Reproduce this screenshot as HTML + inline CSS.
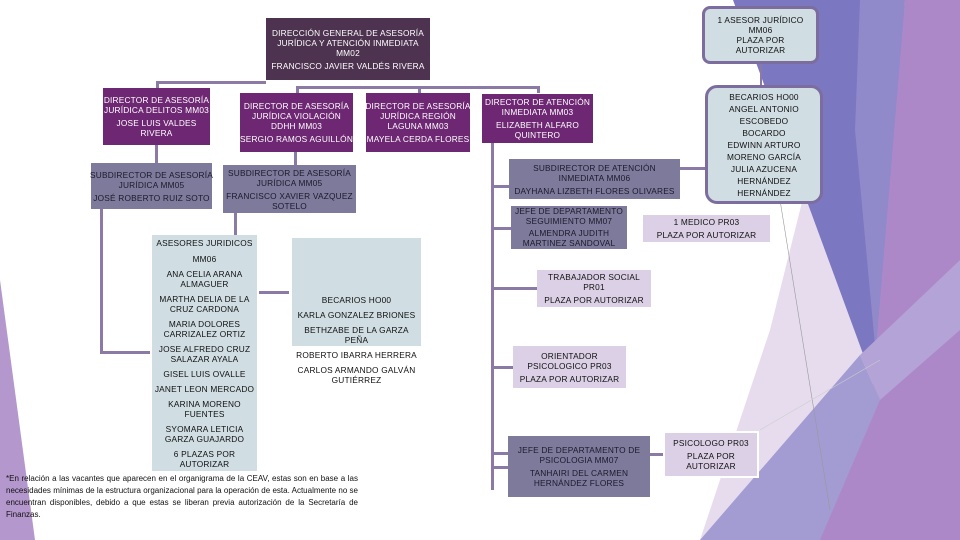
<!DOCTYPE html>
<html><head><meta charset="utf-8"><style>
body{margin:0;width:960px;height:540px;overflow:hidden;background:#fff;position:relative;font-family:"Liberation Sans",sans-serif}
.b{position:absolute;box-sizing:border-box;text-align:center;font-size:8.3px;line-height:10px;display:flex;flex-direction:column;justify-content:center;align-items:center;letter-spacing:0.2px;white-space:nowrap}
.b p{margin:0 0 3px 0}.b p:last-child{margin:0}
.dk{background:#4d3350;color:#fff}
.pu{background:#6e2773;color:#fff}
.gr{background:#7d7a9b;color:#1a1a2a}
.lb{background:#d0dde3;color:#111}
.lv{background:#dcd0e6;color:#111}
.ln{position:absolute;background:#8c7aa6}
</style></head><body>
<svg width="960" height="540" style="position:absolute;left:0;top:0">
<polygon points="805,190 880,400 700,540 770,330" fill="#e6dcee"/>
<polygon points="733,0 905,0 880,400" fill="#7b77c0"/>
<polygon points="860,0 905,0 880,400 855,130" fill="#9f96d0" opacity="0.6"/>
<polygon points="905,0 960,0 960,540 815,540 870,420" fill="#ac88c8"/>
<polygon points="700,540 860,355 880,400 820,540" fill="#a29cd2"/>
<polygon points="860,355 960,260 960,330 880,400" fill="#b3a3d6"/>
<polygon points="0,280 35,540 0,540" fill="#b497cc"/>
<line x1="780" y1="200" x2="830" y2="510" stroke="#999" stroke-width="0.6"/>
<line x1="880" y1="360" x2="760" y2="430" stroke="#ccc" stroke-width="0.6"/>
</svg>
<div class="ln" style="left:156px;top:81px;width:110px;height:3px"></div>
<div class="ln" style="left:156px;top:81px;width:3px;height:8px"></div>
<div class="ln" style="left:296px;top:86px;width:244px;height:3px"></div>
<div class="ln" style="left:296px;top:86px;width:3px;height:7px"></div>
<div class="ln" style="left:418px;top:86px;width:3px;height:7px"></div>
<div class="ln" style="left:537px;top:86px;width:3px;height:7px"></div>
<div class="ln" style="left:155px;top:145px;width:3px;height:18px"></div>
<div class="ln" style="left:294px;top:152px;width:3px;height:13px"></div>
<div class="ln" style="left:100px;top:208px;width:3px;height:146px"></div>
<div class="ln" style="left:100px;top:351px;width:50px;height:3px"></div>
<div class="ln" style="left:234px;top:213px;width:3px;height:22px"></div>
<div class="ln" style="left:259px;top:291px;width:30px;height:3px"></div>
<div class="ln" style="left:491px;top:143px;width:3px;height:347px"></div>
<div class="ln" style="left:491px;top:185px;width:18px;height:3px"></div>
<div class="ln" style="left:680px;top:167px;width:26px;height:3px"></div>
<div class="ln" style="left:491px;top:227px;width:20px;height:3px"></div>
<div class="ln" style="left:491px;top:287px;width:46px;height:3px"></div>
<div class="ln" style="left:491px;top:366px;width:22px;height:3px"></div>
<div class="ln" style="left:491px;top:452px;width:17px;height:3px"></div>
<div class="ln" style="left:491px;top:466px;width:17px;height:3px"></div>
<div class="ln" style="left:650px;top:453px;width:14px;height:3px"></div>
<div class="ln" style="left:760px;top:63px;width:2px;height:24px"></div>
<div class="b dk" style="left:266px;top:18px;width:164px;height:62px"><p>DIRECCIÓN GENERAL DE ASESORÍA<br>JURÍDICA Y ATENCIÓN INMEDIATA<br>MM02</p><p>FRANCISCO JAVIER VALDÉS RIVERA</p></div>
<div class="b lb" style="left:702px;top:6px;width:117px;height:58px;border:3px solid #7d6d9e;border-radius:8px"><p>1 ASESOR JURÍDICO<br>MM06<br>PLAZA POR<br>AUTORIZAR</p></div>
<div class="b lb" style="left:705px;top:85px;width:118px;height:119px;border:3px solid #7d6d9e;border-radius:12px;line-height:12px"><p>BECARIOS HO00<br>ANGEL ANTONIO<br>ESCOBEDO<br>BOCARDO<br>EDWINN ARTURO<br>MORENO GARCÍA<br>JULIA AZUCENA<br>HERNÁNDEZ<br>HERNÁNDEZ</p></div>
<div class="b pu" style="left:103px;top:88px;width:107px;height:57px"><p>DIRECTOR DE ASESORÍA<br>JURÍDICA DELITOS MM03</p><p>JOSE LUIS VALDES<br>RIVERA</p></div>
<div class="b pu" style="left:240px;top:93px;width:113px;height:59px"><p>DIRECTOR DE ASESORÍA<br>JURÍDICA VIOLACIÓN<br>DDHH MM03</p><p>SERGIO RAMOS AGUILLÓN</p></div>
<div class="b pu" style="left:366px;top:93px;width:104px;height:59px"><p>DIRECTOR DE ASESORÍA<br>JURÍDICA REGIÓN<br>LAGUNA MM03</p><p>MAYELA CERDA FLORES</p></div>
<div class="b pu" style="left:482px;top:94px;width:111px;height:49px"><p>DIRECTOR DE ATENCIÓN<br>INMEDIATA MM03</p><p>ELIZABETH ALFARO<br>QUINTERO</p></div>
<div class="b gr" style="left:91px;top:163px;width:121px;height:46px"><p>SUBDIRECTOR DE ASESORÍA<br>JURÍDICA MM05</p><p>JOSÉ ROBERTO RUIZ SOTO</p></div>
<div class="b gr" style="left:223px;top:165px;width:133px;height:48px"><p>SUBDIRECTOR DE ASESORÍA<br>JURÍDICA MM05</p><p>FRANCISCO XAVIER VAZQUEZ<br>SOTELO</p></div>
<div class="b lb" style="left:152px;top:235px;width:105px;height:236px;line-height:10px;justify-content:flex-start;padding-top:3px"><p style="margin-bottom:6px">ASESORES JURIDICOS</p><p style="margin-bottom:5px">MM06</p><p style="margin-bottom:5px">ANA CELIA ARANA<br>ALMAGUER</p><p style="margin-bottom:5px">MARTHA DELIA DE LA<br>CRUZ CARDONA</p><p style="margin-bottom:5px">MARIA DOLORES<br>CARRIZALEZ ORTIZ</p><p style="margin-bottom:5px">JOSE ALFREDO CRUZ<br>SALAZAR AYALA</p><p style="margin-bottom:5px">GISEL LUIS OVALLE</p><p style="margin-bottom:5px">JANET LEON MERCADO</p><p style="margin-bottom:5px">KARINA MORENO<br>FUENTES</p><p style="margin-bottom:5px">SYOMARA LETICIA<br>GARZA GUAJARDO</p><p>6 PLAZAS POR<br>AUTORIZAR</p></div>
<div class="b lb" style="left:292px;top:238px;width:129px;height:108px"></div>
<div class="b" style="left:292px;top:295px;width:129px;height:90px;justify-content:flex-start;color:#111;line-height:10px"><p style="margin-bottom:5px">BECARIOS HO00</p><p style="margin-bottom:5px">KARLA GONZALEZ BRIONES</p><p style="margin-bottom:5px">BETHZABE DE LA GARZA<br>PEÑA</p><p style="margin-bottom:5px">ROBERTO IBARRA HERRERA</p><p>CARLOS ARMANDO GALVÁN<br>GUTIÉRREZ</p></div>
<div class="b gr" style="left:509px;top:159px;width:171px;height:40px"><p>SUBDIRECTOR DE ATENCIÓN<br>INMEDIATA MM06</p><p>DAYHANA LIZBETH FLORES OLIVARES</p></div>
<div class="b gr" style="left:511px;top:206px;width:116px;height:43px;line-height:9.5px"><p>JEFE DE DEPARTAMENTO<br>SEGUIMIENTO MM07</p><p>ALMENDRA JUDITH<br>MARTINEZ SANDOVAL</p></div>
<div class="b lv" style="left:643px;top:215px;width:127px;height:27px"><p>1 MEDICO PR03</p><p>PLAZA POR AUTORIZAR</p></div>
<div class="b lv" style="left:537px;top:270px;width:114px;height:37px"><p>TRABAJADOR SOCIAL<br>PR01</p><p>PLAZA POR AUTORIZAR</p></div>
<div class="b lv" style="left:513px;top:346px;width:113px;height:42px"><p>ORIENTADOR<br>PSICOLOGICO PR03</p><p>PLAZA POR AUTORIZAR</p></div>
<div class="b gr" style="left:508px;top:436px;width:142px;height:61px"><p>JEFE DE DEPARTAMENTO DE<br>PSICOLOGIA MM07</p><p>TANHAIRI DEL CARMEN<br>HERNÁNDEZ FLORES</p></div>
<div class="b lv" style="left:663px;top:431px;width:96px;height:47px;border:2px solid #fff"><p>PSICOLOGO PR03</p><p>PLAZA POR<br>AUTORIZAR</p></div>
<div style="position:absolute;left:6px;top:473px;width:352px;font-size:8px;line-height:12px;text-align:justify;color:#111">*En relación a las vacantes que aparecen en el organigrama de la CEAV, estas son en base a las necesidades mínimas de la estructura organizacional para la operación de esta. Actualmente no se encuentran disponibles, debido a que estas se liberan previa autorización de la Secretaría de Finanzas.</div>
</body></html>
